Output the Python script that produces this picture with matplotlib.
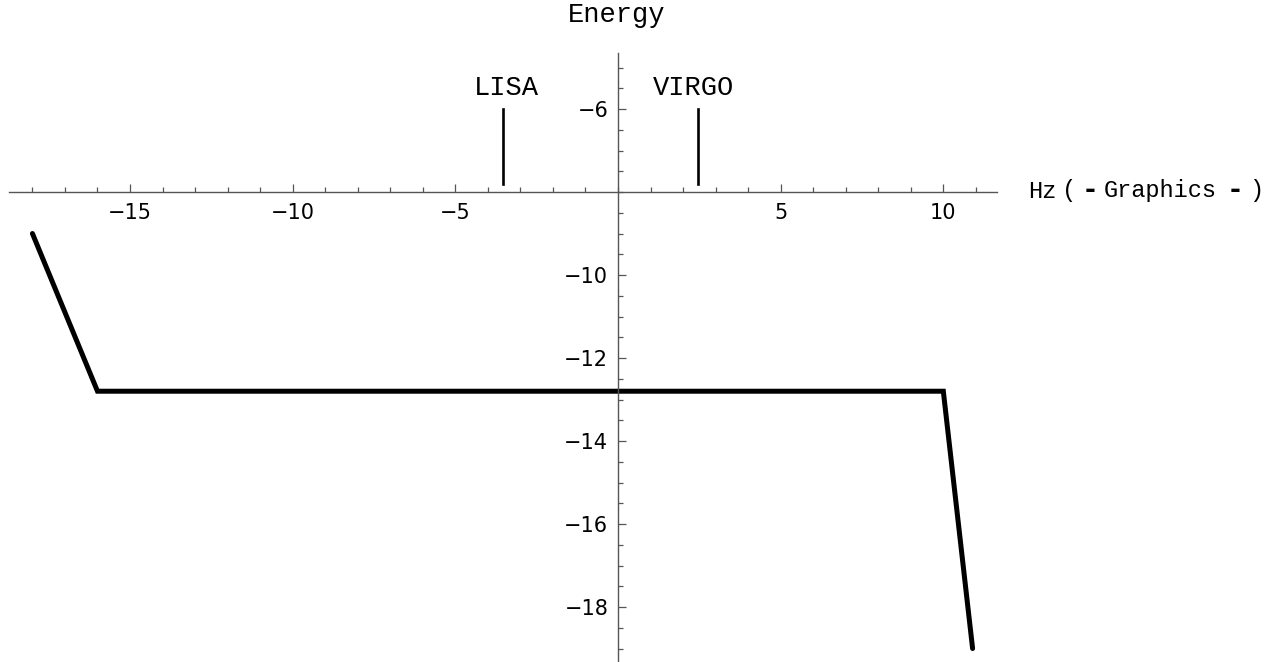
import numpy as np
import matplotlib
matplotlib.use("Agg")
import matplotlib.pyplot as plt
from matplotlib.ticker import MultipleLocator, FixedLocator

# curve data (log10 Hz, log10 energy)
hz = [-18, -16, 10, 10.9]
energy = [-9.0, -12.8, -12.8, -19.0]

# detector markers
detectors = ["LISA", "VIRGO"]
det_x = [-3.55, 2.45]
det_label_x = [-3.42, 2.31]
det_top = -6.0
det_bottom = -7.8

W, H = 1271, 662
fig = plt.figure(figsize=(W / 100, H / 100), dpi=100)

# axes box chosen so that the axis lines fall where the reference has them
left_px, right_px, top_px = 9, 997, 53
ax = fig.add_axes([left_px / W, 0, (right_px - left_px) / W, (H - top_px) / H])
ax.set_xlim(-18.72, 11.65)
ax.set_ylim(-19.325, -4.65)

mono = "Liberation Mono"
axis_col = "#555555"

# Mathematica-style axes crossing at (0, -8)
for s in ["top", "right"]:
    ax.spines[s].set_visible(False)
ax.spines["left"].set_position(("data", 0))
ax.spines["bottom"].set_position(("data", -8))
for s in ["left", "bottom"]:
    ax.spines[s].set_color(axis_col)
    ax.spines[s].set_linewidth(1.0)

ax.xaxis.set_major_locator(FixedLocator([-15, -10, -5, 5, 10]))
ax.xaxis.set_minor_locator(MultipleLocator(1))
ax.yaxis.set_major_locator(FixedLocator([-18, -16, -14, -12, -10, -6]))
ax.yaxis.set_minor_locator(MultipleLocator(0.5))

ax.tick_params(which="both", direction="in", color=axis_col, width=0.9)
ax.tick_params(which="major", length=6, labelsize=15)
ax.tick_params(which="minor", length=3.5)
ax.tick_params(axis="x", which="major", pad=8)
ax.tick_params(axis="y", which="major", pad=7)

# main curve
ax.plot(hz, energy, color="black", lw=3.6, solid_capstyle="round",
        solid_joinstyle="miter")

# detector bands
for name, x, lx in zip(detectors, det_x, det_label_x):
    ax.plot([x, x], [det_bottom, det_top], color="black", lw=1.9)
    ax.text(lx, -5.5, name, family=mono, fontsize=19.5, ha="center", va="center")

# axis labels
fig.text(617 / W, 1 - 15 / H, "Energy", family=mono, fontsize=19.5,
         ha="center", va="center")
yl = 1 - 191 / H
fig.text(1028 / W, yl, "Hz", family=mono, fontsize=17, ha="left", va="center")
fig.text(1062 / W, yl, "(", family=mono, fontsize=17, ha="left", va="center")
fig.text(1085 / W, yl, "-", family="DejaVu Sans", weight="bold", fontsize=19,
         ha="left", va="center")
fig.text(1104 / W, yl, "Graphics", family=mono, fontsize=17, ha="left",
         va="center")
fig.text(1230 / W, yl, "-", family="DejaVu Sans", weight="bold", fontsize=19,
         ha="left", va="center")
fig.text(1249 / W, yl, ")", family=mono, fontsize=17, ha="left", va="center")

fig.savefig("out.png", dpi=100)
